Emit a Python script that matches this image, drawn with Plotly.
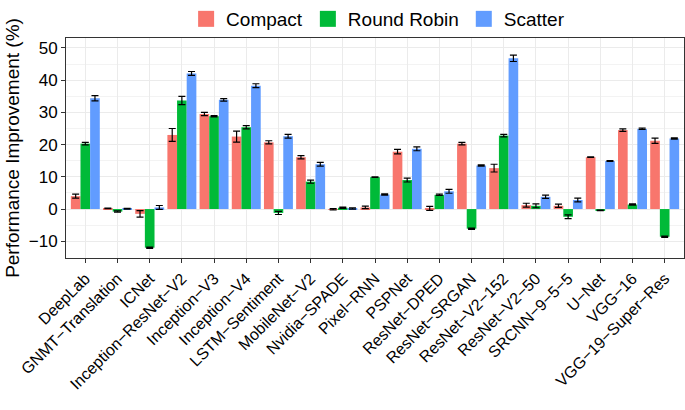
import plotly.graph_objects as go

categories = ["DeepLab", "GNMT-Translation", "ICNet", "Inception-ResNet-V2", "Inception-V3",
              "Inception-V4", "LSTM-Sentiment", "MobileNet-V2", "Nvidia-SPADE", "Pixel-RNN",
              "PSPNet", "ResNet-DPED", "ResNet-SRGAN", "ResNet-V2-152", "ResNet-V2-50",
              "SRCNN-9-5-5", "U-Net", "VGG-16", "VGG-19-Super-Res"]
tick_labels = [c.replace("-", "\u2212") for c in categories]

compact = [4.0, 0.2, -1.5, 23.0, 29.5, 22.5, 20.7, 16.1, -0.1, 0.5, 17.8, 0.2, 20.3, 12.7, 1.2, 1.0, 16.1, 24.5, 21.2]
compact_err = [0.6, 0.1, 1.0, 2.0, 0.5, 1.7, 0.5, 0.5, 0.2, 0.4, 0.7, 0.6, 0.4, 1.2, 0.6, 0.5, 0.1, 0.4, 0.8]
round_robin = [20.3, -0.8, -12.0, 33.7, 28.8, 25.4, -1.2, 8.5, 0.4, 9.9, 9.0, 4.4, -6.1, 22.8, 1.0, -2.4, -0.4, 1.4, -8.6]
round_robin_err = [0.4, 0.2, 0.2, 1.3, 0.2, 0.5, 0.5, 0.5, 0.2, 0.1, 0.6, 0.2, 0.2, 0.4, 0.6, 0.6, 0.1, 0.2, 0.2]
scatter = [34.4, 0.1, 0.5, 42.1, 33.9, 38.3, 22.6, 13.9, 0.2, 4.5, 18.7, 5.5, 13.5, 46.8, 3.8, 2.8, 14.9, 24.9, 21.9]
scatter_err = [0.8, 0.1, 0.6, 0.6, 0.4, 0.6, 0.6, 0.6, 0.2, 0.2, 0.6, 0.6, 0.2, 1.0, 0.5, 0.6, 0.1, 0.2, 0.2]

series = [("Compact", compact, compact_err, "#F8766D"),
          ("Round Robin", round_robin, round_robin_err, "#00BA38"),
          ("Scatter", scatter, scatter_err, "#619CFF")]

x = list(range(len(categories)))
fig = go.Figure()
for name, vals, errs, col in series:
    fig.add_trace(go.Bar(
        x=x, y=vals, name=name, marker=dict(color=col, line=dict(width=0)),
        showlegend=False, legendgroup=name,
        error_y=dict(type="data", array=errs, visible=True, color="black", thickness=1.2, width=3.5),
    ))
for name, vals, errs, col in series:
    fig.add_trace(go.Scatter(
        x=[None], y=[None], mode="markers", name=name, legendgroup=name,
        marker=dict(symbol="square", size=20, color=col),
    ))

fig.update_layout(
    width=685, height=410,
    barmode="group", bargap=0.1, bargroupgap=0.0,
    plot_bgcolor="white", paper_bgcolor="white",
    margin=dict(l=66, r=1, t=38, b=152, autoexpand=False),
    font=dict(family="Liberation Sans, Arial, sans-serif", color="black"),
    legend=dict(orientation="h", x=0.552, xanchor="center", xref="container",
                y=1.0, yanchor="top", yref="container",
                font=dict(size=19), traceorder="normal", bgcolor="rgba(0,0,0,0)",
                itemwidth=30, tracegroupgap=0),
    showlegend=True,
)
fig.update_xaxes(
    tickmode="array", tickvals=x, ticktext=tick_labels, tickangle=-45,
    range=[-0.6, len(categories) - 0.4], automargin=False,
    tickfont=dict(size=16, color="black"),
    showgrid=True, gridcolor="#ebebeb", gridwidth=1,
    ticks="outside", ticklen=4, tickcolor="#333333",
    showline=True, linecolor="#333333", mirror=True, linewidth=1, zeroline=False,
)
fig.update_yaxes(
    title=dict(text="Performance Improvement (%)", font=dict(size=19), standoff=4),
    range=[-15.2, 53.1], tickvals=[-10, 0, 10, 20, 30, 40, 50], automargin=False,
    tickfont=dict(size=17, color="black"),
    showgrid=True, gridcolor="#ebebeb", gridwidth=1,
    minor=dict(dtick=5, showgrid=True, gridcolor="#f3f3f3", gridwidth=0.6),
    ticks="outside", ticklen=4, tickcolor="#333333",
    showline=True, linecolor="#333333", mirror=True, linewidth=1, zeroline=False,
)

fig.write_html("out.html", config={"displayModeBar": False},
               post_script="document.body.style.margin='0';")
